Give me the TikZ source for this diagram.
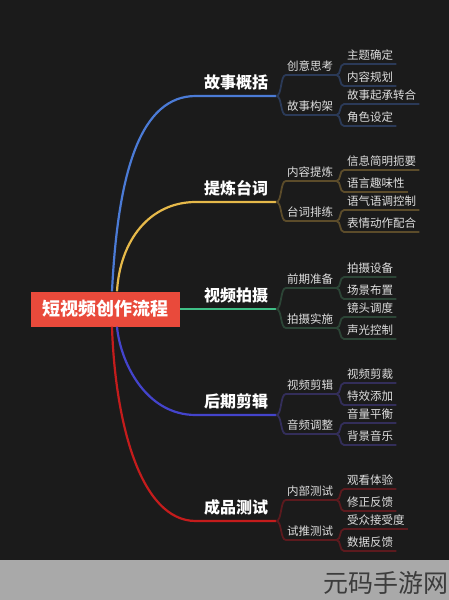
\documentclass[tikz,border=0pt]{standalone}
\usepackage{fontspec}
\setmainfont{Noto Sans CJK SC}
\usepackage{tikz}

\definecolor{bgdark}{HTML}{1B1B1B}
\definecolor{stripgray}{HTML}{A9A9A9}
\definecolor{rootred}{HTML}{E94A3B}
\definecolor{lbltext}{HTML}{DEDEDE}
\definecolor{wmark}{HTML}{3C3C3C}
% branch colours: trunk / twig
\definecolor{blutrunk}{HTML}{4B7BD6}
\definecolor{blutwig}{HTML}{2B3A58}
\definecolor{yeltrunk}{HTML}{E6B94A}
\definecolor{yeltwig}{HTML}{5C4C2A}
\definecolor{grntrunk}{HTML}{3FBF86}
\definecolor{grntwig}{HTML}{2C4536}
\definecolor{indtrunk}{HTML}{4444CC}
\definecolor{indtwig}{HTML}{332E5A}
\definecolor{redtrunk}{HTML}{C41C1C}
\definecolor{redtwig}{HTML}{5C1A1E}

\begin{document}
\begin{tikzpicture}[x=1pt,y=-1pt,
    rootbox/.style={fill=rootred,text=white,inner sep=0pt,
      minimum width=149pt,minimum height=35pt,
      font=\fontsize{18}{18}\selectfont\bfseries},
    mainlbl/.style={anchor=south,minimum width=80pt,inner xsep=0pt,inner ysep=5.5pt,
      text height=12pt,text depth=1.5pt,text=white,
      font=\fontsize{16}{16}\selectfont\bfseries},
    midlbl/.style={anchor=south west,text width=48pt,align=left,inner xsep=1pt,
      inner ysep=3.5pt,text height=8.5pt,text depth=1pt,text=lbltext,
      font=\fontsize{11.5}{11.5}\selectfont},
    leaflbl/.style={anchor=south west,inner xsep=3pt,inner ysep=3.5pt,
      text height=8.5pt,text depth=1pt,text=lbltext,
      font=\fontsize{11.5}{11.5}\selectfont},
    trunk/.style={line width=2.2pt},
    twig/.style={line width=1.8pt}]
        % Canvas
        \useasboundingbox (0,0) rectangle (449,600);
        \fill[bgdark] (0,0) rectangle (449,560);
        \fill[stripgray] (0,560) rectangle (449,600);
        \node[anchor=east,inner sep=0pt,text=wmark,font=\fontsize{25}{25}\selectfont] (wm) at (449,583) {元码手游网};
        % Root
        \node[rootbox] (root) at (105.5,309) {短视频创作流程};
        % Main branches
        \node[mainlbl] (b1) at (236,96) {故事概括};
        \node[mainlbl] (b2) at (236,202) {提炼台词};
        \node[mainlbl] (b3) at (236,309) {视频拍摄};
        \node[mainlbl] (b4) at (236,415) {后期剪辑};
        \node[mainlbl] (b5) at (236,521) {成品测试};
        \draw[trunk,blutrunk] ([xshift=6.5pt]root.north) .. controls +(6,-121) and +(-55,0) .. (b1.south west) -- (b1.south east);
        \draw[trunk,yeltrunk] ([xshift=11.5pt]root.north) .. controls +(3,-51) and +(-46,0) .. (b2.south west) -- (b2.south east);
        \draw[trunk,grntrunk] (root.east) -- (b3.south west) -- (b3.south east);
        \draw[trunk,indtrunk] ([xshift=11.5pt]root.south) .. controls +(3,34) and +(-51,0) .. (b4.south west) -- (b4.south east);
        \draw[trunk,redtrunk] ([xshift=6.5pt]root.south) .. controls +(3,94) and +(-56,0) .. (b5.south west) -- (b5.south east);
        % Second level
        \node[midlbl] (b1a) at (286,75) {创意思考};
        \node[midlbl] (b1b) at (286,115) {故事构架};
        \node[midlbl] (b2a) at (286,181) {内容提炼};
        \node[midlbl] (b2b) at (286,221) {台词排练};
        \node[midlbl] (b3a) at (286,288) {前期准备};
        \node[midlbl] (b3b) at (286,328) {拍摄实施};
        \node[midlbl] (b4a) at (286,394) {视频剪辑};
        \node[midlbl] (b4b) at (286,434) {音频调整};
        \node[midlbl] (b5a) at (286,500) {内部测试};
        \node[midlbl] (b5b) at (286,540) {试推测试};
        \foreach \b/\c in {b1/blutwig,b2/yeltwig,b3/grntwig,b4/indtwig,b5/redtwig} {
          \foreach \s in {a,b}
            \draw[twig,\c] (\b.south east) .. controls +(6,0) and +(-6,0) .. (\b\s.south west) -- (\b\s.south east);
        }
        % Leaves
        \node[leaflbl] (b1a1) at (344,64) {主题确定};
        \node[leaflbl] (b1a2) at (344,86) {内容规划};
        \node[leaflbl] (b1b1) at (344,104) {故事起承转合};
        \node[leaflbl] (b1b2) at (344,126) {角色设定};
        \node[leaflbl] (b2a1) at (344,170) {信息简明扼要};
        \node[leaflbl] (b2a2) at (344,192) {语言趣味性};
        \node[leaflbl] (b2b1) at (344,210) {语气语调控制};
        \node[leaflbl] (b2b2) at (344,232) {表情动作配合};
        \node[leaflbl] (b3a1) at (344,277) {拍摄设备};
        \node[leaflbl] (b3a2) at (344,299) {场景布置};
        \node[leaflbl] (b3b1) at (344,317) {镜头调度};
        \node[leaflbl] (b3b2) at (344,339) {声光控制};
        \node[leaflbl] (b4a1) at (344,383) {视频剪裁};
        \node[leaflbl] (b4a2) at (344,405) {特效添加};
        \node[leaflbl] (b4b1) at (344,423) {音量平衡};
        \node[leaflbl] (b4b2) at (344,445) {背景音乐};
        \node[leaflbl] (b5a1) at (344,489) {观看体验};
        \node[leaflbl] (b5a2) at (344,511) {修正反馈};
        \node[leaflbl] (b5b1) at (344,529) {受众接受度};
        \node[leaflbl] (b5b2) at (344,551) {数据反馈};
        \foreach \b/\c in {b1/blutwig,b2/yeltwig,b3/grntwig,b4/indtwig,b5/redtwig} {
          \foreach \s in {a,b}
            \foreach \n in {1,2}
              \draw[twig,\c] (\b\s.south east) .. controls +(5,0) and +(-5,0) .. (\b\s\n.south west) -- (\b\s\n.south east);
        }
      \end{tikzpicture}
\end{document}
